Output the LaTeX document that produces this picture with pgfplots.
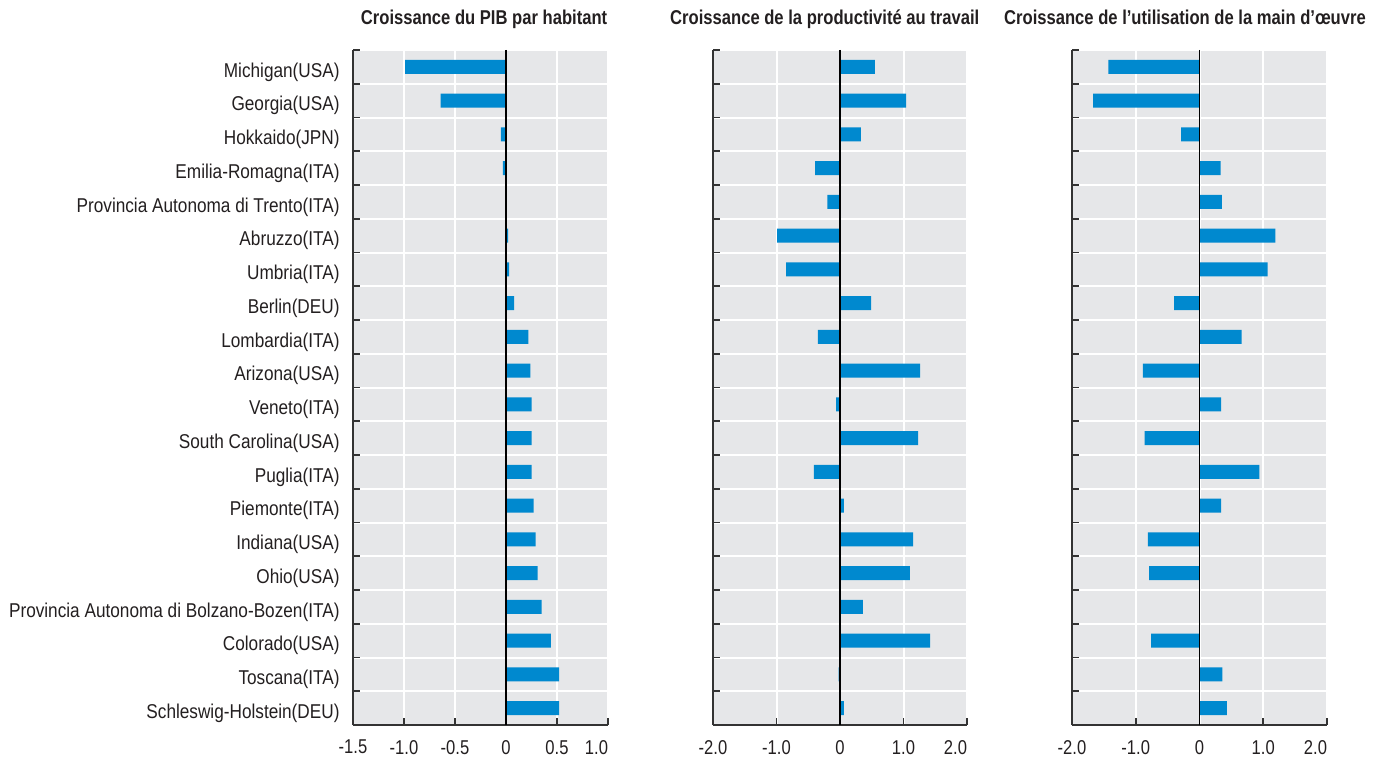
\documentclass[border=0pt]{standalone}
\usepackage{fontspec}
\setmainfont[FakeStretch=0.83]{Liberation Sans}
\newfontfamily\labfont[FakeStretch=0.86]{Liberation Sans}
\usepackage{pgfplots}
\pgfplotsset{compat=1.18}
\definecolor{bggray}{RGB}{230,231,233}
\definecolor{barblue}{RGB}{0,137,207}
\definecolor{axdark}{RGB}{51,51,51}
\definecolor{txt}{RGB}{35,31,32}

\pgfplotsset{
  panel/.style={
    scale only axis, width=127.5pt, height=337.5pt, anchor=south west,
    xbar, bar width=7pt, bar shift=0pt,
    y dir=reverse, ymin=-0.5, ymax=19.5,
    ytick={0,...,19},
    every major y tick/.style={draw=none},
    minor ytick={-0.5,0.5,...,19.5},
    yminorgrids=true, ymajorgrids=false,
    minor grid style={white, line width=1pt},
    xmajorgrids=true, major grid style={white, line width=1pt},
    axis background/.style={fill=bggray},
    axis x line*=bottom, axis y line*=left,
    x axis line style={axdark, line width=1pt},
    y axis line style={axdark, line width=1pt},
    tick align=inside, major tick length=3.5pt, minor tick length=3.5pt,
    every tick/.style={axdark, line width=0.8pt},
    xticklabel style={font=\fontsize{10}{12}\selectfont, text=txt, yshift=-4pt},
    yticklabel style={font=\labfont\fontsize{10}{12}\selectfont, text=txt, xshift=-3.2pt, yshift=-2.5pt},
    title style={font=\bfseries\fontsize{10}{12}\selectfont, text=txt, anchor=base, yshift=6.5pt},
    clip=false,
  },
  bars/.style={draw=none, fill=barblue},
}

\begin{document}
\begin{tikzpicture}
\useasboundingbox (0,0) rectangle (690pt,380pt);

% Panel 1
\begin{axis}[panel, at={(176.5pt,17.5pt)},
  xmin=-1.5, xmax=1,
  xtick={-1.5,-1,-0.5,0,0.5,1},
  xticklabels={-1.5,-1.0,-0.5,0,0.5,\llap{1.0}},
  yticklabels={Michigan(USA),Georgia(USA),Hokkaido(JPN),Emilia-Romagna(ITA),Provincia Autonoma di Trento(ITA),Abruzzo(ITA),Umbria(ITA),Berlin(DEU),Lombardia(ITA),Arizona(USA),Veneto(ITA),South Carolina(USA),Puglia(ITA),Piemonte(ITA),Indiana(USA),Ohio(USA),Provincia Autonoma di Bolzano-Bozen(ITA),Colorado(USA),Toscana(ITA),Schleswig-Holstein(DEU)},
  title={Croissance du PIB par habitant},
  title style={at={(0.514,1)}},
]
\addplot[bars] coordinates {
(-0.99,0) (-0.64,1) (-0.05,2) (-0.03,3) (0.0,4) (0.02,5) (0.03,6) (0.08,7)
(0.22,8) (0.24,9) (0.25,10) (0.25,11) (0.25,12) (0.27,13) (0.29,14) (0.31,15)
(0.35,16) (0.44,17) (0.52,18) (0.52,19)};
\draw[black, line width=0.6pt] (axis cs:0,-0.5) -- (axis cs:0,19.5);
\end{axis}

% Panel 2
\begin{axis}[panel, at={(356.5pt,17.5pt)}, width=127pt,
  xmin=-2, xmax=2,
  xtick={-2,-1,0,1,2},
  xticklabels={-2.0,-1.0,0,1.0,\llap{2.0}},
  yticklabels={},
  title={Croissance de la productivité au travail},
  title style={at={(0.44,1)}},
]
\addplot[bars] coordinates {
(0.55,0) (1.04,1) (0.33,2) (-0.39,3) (-0.20,4) (-0.99,5) (-0.85,6) (0.49,7)
(-0.35,8) (1.26,9) (-0.06,10) (1.23,11) (-0.41,12) (0.06,13) (1.15,14) (1.10,15)
(0.36,16) (1.42,17) (-0.02,18) (0.06,19)};
\draw[black, line width=0.6pt] (axis cs:0,-0.5) -- (axis cs:0,19.5);
\end{axis}

% Panel 3
\begin{axis}[panel, at={(536pt,17.5pt)},
  xmin=-2, xmax=2,
  xtick={-2,-1,0,1,2},
  xticklabels={-2.0,-1.0,0,1.0,\llap{2.0}},
  yticklabels={},
  title={Croissance de l’utilisation de la main d’œuvre},
  title style={at={(0.443,1)}},
]
\addplot[bars] coordinates {
(-1.43,0) (-1.67,1) (-0.29,2) (0.33,3) (0.35,4) (1.19,5) (1.07,6) (-0.40,7)
(0.66,8) (-0.89,9) (0.34,10) (-0.86,11) (0.94,12) (0.34,13) (-0.81,14) (-0.79,15)
(0.0,16) (-0.76,17) (0.36,18) (0.43,19)};
\draw[black, line width=0.6pt] (axis cs:0,-0.5) -- (axis cs:0,19.5);
\end{axis}
\end{tikzpicture}
\end{document}
